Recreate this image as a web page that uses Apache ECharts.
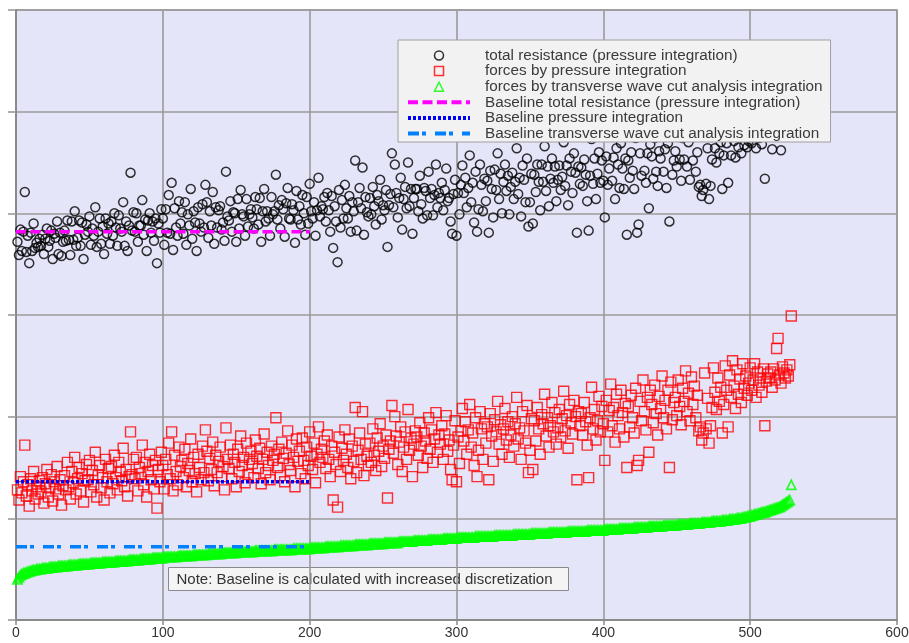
<!DOCTYPE html>
<html>
<head>
<meta charset="utf-8">
<script src="https://cdn.jsdelivr.net/npm/echarts@6/dist/echarts.min.js"></script>
<style>
  html, body { margin: 0; padding: 0; background: #ffffff; }
  #chart { width: 909px; height: 643px; }
</style>
</head>
<body>
<div id="chart"></div>
<script>
// Run-by-run results; the run number is the position in each list (1-based).
const totalResistance = [
  372,359,384,363,382,421,362,378,351,381,363,390,366,371,367,375,
  368,379,360,375,385,367,373,383,355,380,376,392,360,381,358,372,
  383,373,393,374,359,392,374,402,368,376,393,368,391,355,379,389,
  382,397,369,385,378,406,367,382,395,370,387,360,395,380,390,370,
  392,378,400,386,368,398,385,382,411,368,392,363,388,440,383,401,
  382,400,372,388,388,413,379,394,363,393,400,381,392,373,395,351,
  390,381,404,395,369,404,381,418,380,430,364,405,386,378,412,390,
  401,380,411,369,399,388,424,375,402,391,363,406,390,382,409,386,
  428,411,376,402,388,421,370,406,386,403,407,384,391,373,441,397,
  393,412,382,401,400,372,414,385,423,399,397,378,414,387,399,404,
  396,385,416,404,389,415,372,402,424,392,402,395,378,416,399,402,
  438,394,408,385,413,404,377,410,425,395,394,409,403,371,422,394,
  407,389,418,400,379,416,390,429,402,395,411,378,403,435,397,407,
  404,416,392,420,403,382,417,366,407,392,352,423,386,413,395,428,
  405,395,417,382,411,402,452,383,411,425,405,445,379,416,401,397,
  415,399,426,407,389,418,412,433,394,408,403,423,367,408,419,459,
  406,448,420,396,415,435,384,414,426,405,450,407,424,380,415,424,
  424,402,437,409,395,425,422,398,441,415,424,398,418,448,406,420,
  415,430,403,423,444,412,415,392,380,419,433,378,420,399,428,447,
  420,435,406,425,457,411,430,391,441,382,404,448,428,402,434,412,
  432,381,442,424,396,443,423,459,414,439,400,431,448,422,437,399,
  426,440,414,431,464,419,435,397,447,433,411,454,387,411,439,390,
  438,421,448,431,403,448,431,466,422,446,407,434,454,430,446,412,
  433,447,423,436,470,427,447,408,454,441,420,459,440,381,446,429,
  445,427,453,438,412,383,437,473,429,454,414,439,460,430,452,432,
  396,456,428,444,477,432,455,414,464,448,425,469,444,424,454,379,
  452,435,460,442,424,474,381,389,459,437,483,442,430,459,405,468,
  456,434,474,441,427,461,454,479,441,463,425,469,392,478,438,452,
  461,446,475,453,432,474,453,489,446,470,433,482,452,475,441,460,
  426,428,417,423,488,429,464,414,427,453,495,464,450,476,459,470,
  424,457,489,469,430,487,457,499,471,455,483,465,477,459,494,467,
  481,465,471,488,469,475,494,464,481,474,478,468,486,434,476,480,
  480,483,463,487,479,508,521,479,462,489,480,481,486,484,490,544
];

const pressureForces = [
  128,118,141,125,136,172,122,133,112,139,127,146,119,131,124,137,
  126,140,115,134,148,121,130,143,117,136,129,151,124,138,113,132,
  142,128,155,131,119,146,135,160,124,139,150,127,144,116,137,153,
  138,157,126,147,133,165,121,143,152,130,140,118,158,136,149,125,
  151,134,162,140,128,155,146,137,169,131,148,122,141,185,143,158,
  139,160,127,150,144,172,133,155,121,146,163,138,152,129,157,110,
  148,136,165,152,129,158,143,174,139,185,127,162,146,133,170,151,
  157,140,168,131,154,147,178,136,160,144,126,163,150,138,171,145,
  187,166,137,159,148,175,132,162,145,156,170,141,151,128,189,158,
  149,172,139,163,155,131,168,146,181,152,160,135,174,143,158,166,
  154,140,177,161,149,169,134,158,183,145,165,152,138,171,157,163,
  199,150,168,142,175,159,136,164,186,153,147,172,160,131,178,156,
  166,144,179,157,139,170,152,185,161,148,174,135,163,190,155,168,
  160,176,149,182,158,141,171,118,165,153,111,180,146,169,157,187,
  163,150,178,139,171,156,209,145,167,184,158,205,142,173,161,152,
  174,155,188,162,147,179,166,193,151,171,159,182,120,168,176,211,
  164,200,181,153,175,190,146,170,185,158,207,167,179,141,173,186,
  180,162,194,171,150,184,176,159,199,168,187,155,178,204,165,182,
  173,191,158,183,201,166,177,148,138,172,196,136,180,154,186,208,
  176,195,163,187,212,170,184,152,199,141,167,205,188,158,193,174,
  190,138,203,181,156,197,185,215,173,192,163,188,208,177,195,160,
  182,200,171,193,219,178,189,158,205,186,174,211,145,167,198,148,
  196,176,209,188,163,202,193,222,181,199,170,191,214,185,204,173,
  189,207,180,198,225,186,201,169,212,194,183,216,200,138,205,191,
  203,182,214,195,172,140,199,229,188,207,177,196,220,185,210,193,
  157,216,185,206,232,191,209,175,222,201,188,226,204,180,213,150,
  210,190,221,199,184,228,152,157,215,196,236,205,187,219,165,226,
  212,194,231,203,182,220,208,240,199,216,188,226,150,234,197,214,
  219,201,236,210,192,228,215,245,205,223,196,239,212,230,199,221,
  186,190,177,184,243,188,218,174,191,209,248,224,207,238,215,229,
  184,212,250,226,190,241,219,255,230,208,246,222,237,214,252,228,
  240,221,233,248,226,236,252,219,244,231,238,224,247,191,235,242,
  238,244,229,247,236,267,277,241,233,249,243,238,246,240,251,299
];

const waveCutForces = [
  40,42,44,45,46,46,47,47,48,48,
  49,49,49,50,50,50,50,51,51,51,51,51,52,52,52,52,52,52,53,53,53,53,53,53,53,
  54,54,54,54,54,54,54,55,55,55,55,55,55,55,55,
  56,56,56,56,56,56,56,56,57,57,57,57,57,57,57,57,57,58,58,58,58,58,58,58,58,58,
  59,59,59,59,59,59,59,59,60,60,60,60,60,60,60,60,61,61,61,61,61,61,61,61,
  62,62,62,62,62,62,62,62,62,62,63,63,63,63,63,63,63,63,63,63,
  64,64,64,64,64,64,64,64,64,64,65,65,65,65,65,65,65,65,65,65,
  66,66,66,66,66,66,66,66,66,66,
  67,67,67,67,67,67,67,67,67,67,67,67,68,68,68,68,68,68,68,68,68,68,68,68,68,
  69,69,69,69,69,69,69,69,69,69,69,69,69,70,70,70,70,70,70,70,70,70,70,70,70,
  71,71,71,71,71,71,71,71,71,71,72,72,72,72,72,72,72,72,72,72,
  73,73,73,73,73,73,73,73,73,73,74,74,74,74,74,74,74,74,74,74,
  75,75,75,75,75,75,75,75,75,75,
  76,76,76,76,76,76,76,76,76,76,77,77,77,77,77,77,77,77,77,77,
  78,78,78,78,78,78,78,78,78,78,79,79,79,79,79,79,79,79,79,79,
  80,80,80,80,80,80,80,80,80,80,
  81,81,81,81,81,81,81,81,81,81,81,81,82,82,82,82,82,82,82,82,82,82,82,82,82,
  83,83,83,83,83,83,83,83,83,83,83,83,83,84,84,84,84,84,84,84,84,84,84,84,84,
  85,85,85,85,85,85,85,85,85,85,85,85,86,86,86,86,86,86,86,86,86,86,86,86,86,
  87,87,87,87,87,87,87,87,87,87,87,87,87,88,88,88,88,88,88,88,88,88,88,88,88,
  89,89,89,89,89,89,89,89,89,89,90,90,90,90,90,90,90,90,90,90,
  91,91,91,91,91,91,91,91,91,91,92,92,92,92,92,92,92,92,92,92,
  93,93,93,93,93,93,93,93,93,93,
  94,94,94,94,94,94,94,94,95,95,95,95,95,95,95,95,96,96,96,96,96,96,96,97,97,97,97,97,97,97,
  98,98,98,98,98,99,99,99,99,99,100,100,100,100,101,101,101,102,102,102,
  103,103,104,104,104,105,105,106,106,106,
  107,107,108,108,109,109,110,110,111,111,
  112,113,114,115,116,117,118,
  133
];

// Reference levels from the finer discretization, drawn over runs 0..200
const baselineRuns = [0, 200];
const baselineTotal = 382;
const baselinePressure = 136;
const baselineWaveCut = 72;

const seriesNames = [
  'total resistance (pressure integration)',
  'forces by pressure integration',
  'forces by transverse wave cut analysis integration',
  'Baseline total resistance (pressure integration)',
  'Baseline pressure integration',
  'Baseline transverse wave cut analysis integration'
];

const noteText = 'Note: Baseline is calculated with increased discretization';

const FONT = '"Liberation Sans", Arial, Helvetica, sans-serif';

// Marker outlines used as legend keys (paths keep their aspect ratio)
const KEY_CIRCLE = 'path://M5,0A5,5,0,1,1,4.999,0Z';
const KEY_SQUARE = 'path://M0,0L10,0L10,10L0,10Z';
const KEY_TRIANGLE = 'path://M5,0L10,10L0,10Z';

function toPoints(values) {
  return values.map((v, i) => [i + 1, v]);
}
function levelLine(level) {
  return baselineRuns.map(x => [x, level]);
}

const gridLine = { color: '#9a9a9a', width: 1.6 };

const chart = echarts.init(document.getElementById('chart'), null, { renderer: 'canvas' });

chart.setOption({
  animation: false,
  backgroundColor: '#ffffff',
  grid: {
    left: 16, right: 12, top: 10, bottom: 23,
    show: true,
    backgroundColor: '#e5e5fa',
    borderColor: '#9a9a9a',
    borderWidth: 1.6,
    containLabel: false,
    outerBoundsMode: 'none'
  },
  xAxis: {
    type: 'value', min: 0, max: 600, interval: 100,
    axisLine: { show: true, onZero: false, lineStyle: { color: '#8a8a8a', width: 2 } },
    axisTick: { show: true, length: 5, lineStyle: { color: '#8a8a8a', width: 1.5 } },
    axisLabel: { color: '#333333', fontSize: 14, fontFamily: FONT, margin: 6, hideOverlap: false },
    splitLine: { show: true, lineStyle: gridLine }
  },
  yAxis: {
    type: 'value', min: 0, max: 600, interval: 100,
    axisLine: { show: true, onZero: false, lineStyle: { color: '#8a8a8a', width: 2 } },
    axisTick: { show: true, length: 8, lineStyle: { color: '#9a9a9a', width: 1.6 } },
    axisLabel: { show: false },
    splitLine: { show: true, lineStyle: gridLine }
  },
  legend: {
    orient: 'vertical',
    left: 398, top: 40,
    padding: [8, 8, 1, 8],
    itemGap: 0.6,
    itemWidth: 62,
    itemHeight: 9,
    backgroundColor: '#f2f2f2',
    borderColor: '#a0a0a0',
    borderWidth: 1,
    borderRadius: 0,
    selectedMode: false,
    symbolKeepAspect: true,
    itemStyle: { borderWidth: 1.5 },
    lineStyle: { width: 4 },
    textStyle: { fontFamily: FONT, fontSize: 15.3, lineHeight: 13, color: '#3a3a3a', padding: [0, 0, 0, 10] },
    data: [
      { name: seriesNames[0], icon: KEY_CIRCLE },
      { name: seriesNames[1], icon: KEY_SQUARE },
      { name: seriesNames[2], icon: KEY_TRIANGLE },
      { name: seriesNames[3], itemStyle: { opacity: 0 } },
      { name: seriesNames[4], itemStyle: { opacity: 0 } },
      { name: seriesNames[5], itemStyle: { opacity: 0 } }
    ]
  },
  graphic: [{
    type: 'group',
    left: 168, top: 567,
    children: [
      { type: 'rect', shape: { x: 0, y: 0, width: 400, height: 23 },
        style: { fill: '#f4f4f4', stroke: '#8a8a8a', lineWidth: 1 } },
      { type: 'text', x: 8, y: 12,
        style: { text: noteText, fill: '#333333', fontSize: 15, fontFamily: FONT, verticalAlign: 'middle' } }
    ]
  }],
  series: [
    {
      name: seriesNames[0], type: 'scatter', silent: true, z: 2,
      symbol: 'circle', symbolSize: 9,
      itemStyle: { color: 'rgba(0,0,0,0)', borderColor: '#000000', borderWidth: 1.5 },
      data: toPoints(totalResistance)
    },
    {
      name: seriesNames[1], type: 'scatter', silent: true, z: 2,
      symbol: 'rect', symbolSize: 10,
      itemStyle: { color: 'rgba(0,0,0,0)', borderColor: '#ff0000', borderWidth: 1.4 },
      data: toPoints(pressureForces)
    },
    {
      name: seriesNames[2], type: 'scatter', silent: true, z: 2,
      symbol: 'triangle', symbolSize: 9,
      itemStyle: { color: 'rgba(0,0,0,0)', borderColor: '#00ff00', borderWidth: 1.8 },
      data: toPoints(waveCutForces)
    },
    {
      name: seriesNames[3], type: 'line', silent: true, z: 4,
      symbol: 'none', showSymbol: false,
      itemStyle: { color: '#ff00ff' },
      lineStyle: { color: '#ff00ff', width: 3.5, type: [10, 4.5] },
      data: levelLine(baselineTotal)
    },
    {
      name: seriesNames[4], type: 'line', silent: true, z: 4,
      symbol: 'none', showSymbol: false,
      itemStyle: { color: '#0000ff' },
      lineStyle: { color: '#0000ff', width: 3.5, type: [3, 2] },
      data: levelLine(baselinePressure)
    },
    {
      name: seriesNames[5], type: 'line', silent: true, z: 4,
      symbol: 'none', showSymbol: false,
      itemStyle: { color: '#0080ff' },
      lineStyle: { color: '#0080ff', width: 3.5, type: [11, 3, 4, 9] },
      data: levelLine(baselineWaveCut)
    }
  ]
});
</script>
</body>
</html>
